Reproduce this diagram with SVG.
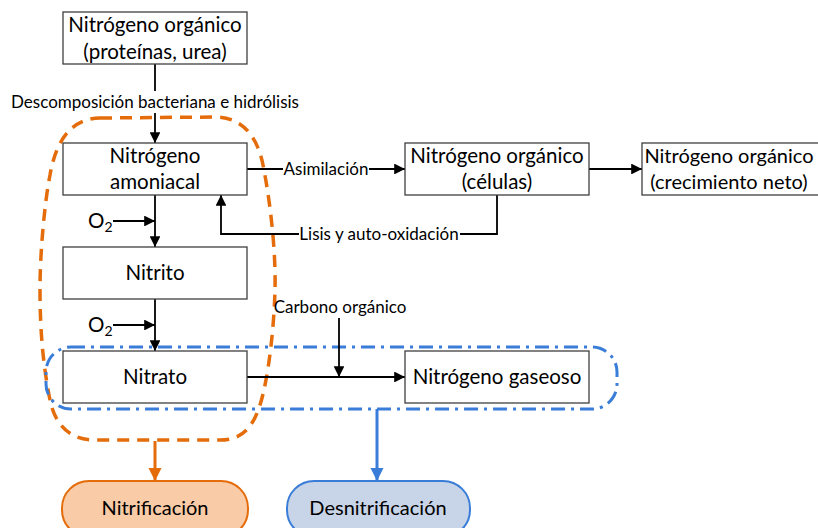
<svg xmlns="http://www.w3.org/2000/svg" width="818" height="528" viewBox="0 0 818 528">
  <style>
    .box { fill: #ffffff; stroke: #3f3f3f; stroke-width: 1.3; }
    .t { font-family: Lato, "Liberation Sans", sans-serif; fill: #000; text-anchor: middle; }
    .big { font-size: 20.5px; }
    .lbl { font-size: 17px; }
    .pill { font-size: 20px; }
    .ln { stroke: #000; stroke-width: 1.8; fill: none; }
  </style>
  <defs>
    <marker id="ah" viewBox="0 0 10 10" refX="10" refY="5" markerWidth="6" markerHeight="6" orient="auto" markerUnits="strokeWidth">
      <path d="M0,0 L10,5 L0,10 Z" fill="#000"/>
    </marker>
    <marker id="ahO" viewBox="0 0 10 10" refX="10" refY="5" markerWidth="4.5" markerHeight="4.5" orient="auto" markerUnits="strokeWidth">
      <path d="M0,0 L10,5 L0,10 Z" fill="#E46C0A"/>
    </marker>
    <marker id="ahB" viewBox="0 0 10 10" refX="10" refY="5" markerWidth="4.5" markerHeight="4.5" orient="auto" markerUnits="strokeWidth">
      <path d="M0,0 L10,5 L0,10 Z" fill="#3A7DD8"/>
    </marker>
  </defs>

  <rect width="818" height="528" fill="#ffffff"/>

  <!-- process groupings -->
  <g id="grupo-nitrificacion">
    <path d="M100 118 L215 117 C245 117 258 140 263 165 C270 200 276 250 275 290 C274 330 268 380 260 405 C252 430 240 440 220 440 L95 440 C70 440 55 425 50 400 C43 365 40 330 40 290 C40 250 45 200 50 175 C56 140 72 118 100 118 Z"
          fill="none" stroke="#E46C0A" stroke-width="3.5" stroke-dasharray="12 8"/>
  </g>
  <g id="grupo-desnitrificacion">
    <rect x="46" y="347" width="571" height="62" rx="25" fill="none" stroke="#3A7DD8" stroke-width="3" stroke-dasharray="14 6 3 6"/>
  </g>

  <!-- connectors -->
  <g id="conectores">
    <line class="ln" x1="155" y1="64" x2="155" y2="91"/>
    <line class="ln" x1="155" y1="113" x2="155" y2="143" marker-end="url(#ah)"/>
    <line class="ln" x1="247" y1="169" x2="283" y2="169"/>
    <line class="ln" x1="369" y1="169" x2="405" y2="169" marker-end="url(#ah)"/>
    <line class="ln" x1="589" y1="169" x2="642" y2="169" marker-end="url(#ah)"/>
    <polyline class="ln" points="497,195 497,234 460,234"/>
    <polyline class="ln" points="299,234 221,234 221,195" marker-end="url(#ah)"/>
    <line class="ln" x1="155" y1="195" x2="155" y2="247" marker-end="url(#ah)"/>
    <line class="ln" x1="113" y1="221" x2="155" y2="221" marker-end="url(#ah)"/>
    <line class="ln" x1="155" y1="299" x2="155" y2="351" marker-end="url(#ah)"/>
    <line class="ln" x1="113" y1="325" x2="155" y2="325" marker-end="url(#ah)"/>
    <line class="ln" x1="247" y1="377" x2="405" y2="377" marker-end="url(#ah)"/>
    <line class="ln" x1="339" y1="318" x2="339" y2="377" marker-end="url(#ah)"/>
    <line x1="155" y1="441" x2="155" y2="481" stroke="#E46C0A" stroke-width="3" marker-end="url(#ahO)"/>
    <line x1="377" y1="409" x2="377" y2="481" stroke="#3A7DD8" stroke-width="3" marker-end="url(#ahB)"/>
    <text class="t lbl" x="155" y="108">Descomposición bacteriana e hidrólisis</text>
    <text class="t lbl" x="326" y="175">Asimilación</text>
    <text class="t lbl" x="379" y="240">Lisis y auto-oxidación</text>
    <text class="t lbl" x="340" y="313">Carbono orgánico</text>
    <text class="t big" x="88" y="228" style="text-anchor:start">O<tspan font-size="14" dy="4">2</tspan></text>
    <text class="t big" x="88" y="332" style="text-anchor:start">O<tspan font-size="14" dy="4">2</tspan></text>
  </g>

  <!-- nodes -->
  <g id="n-organico">
    <rect class="box" x="63" y="12" width="184" height="52"/>
    <text class="t big" x="155" y="32">Nitrógeno orgánico</text>
    <text class="t big" x="155" y="59">(proteínas, urea)</text>
  </g>
  <g id="n-amoniacal">
    <rect class="box" x="63" y="143" width="184" height="52"/>
    <text class="t big" x="155" y="163">Nitrógeno</text>
    <text class="t big" x="155" y="189">amoniacal</text>
  </g>
  <g id="n-celulas">
    <rect class="box" x="405" y="143" width="184" height="52"/>
    <text class="t big" x="497" y="163">Nitrógeno orgánico</text>
    <text class="t big" x="497" y="189">(células)</text>
  </g>
  <g id="n-crecimiento">
    <rect class="box" x="642" y="143" width="184" height="52"/>
    <text class="t" x="729" y="163" font-size="20">Nitrógeno orgánico</text>
    <text class="t" x="729" y="189" font-size="20">(crecimiento neto)</text>
  </g>
  <g id="n-nitrito">
    <rect class="box" x="63" y="247" width="184" height="52"/>
    <text class="t big" x="155" y="280">Nitrito</text>
  </g>
  <g id="n-nitrato">
    <rect class="box" x="63" y="351" width="184" height="52"/>
    <text class="t big" x="155" y="384">Nitrato</text>
  </g>
  <g id="n-gaseoso">
    <rect class="box" x="405" y="351" width="184" height="52"/>
    <text class="t big" x="497" y="384">Nitrógeno gaseoso</text>
  </g>
  <g id="n-nitrificacion">
    <rect x="62" y="481" width="186" height="56" rx="27" fill="#F9CBA6" stroke="#E46C0A" stroke-width="2"/>
    <text class="t pill" x="155" y="515">Nitrificación</text>
  </g>
  <g id="n-desnitrificacion">
    <rect x="287" y="481" width="183" height="56" rx="27" fill="#C8D5E8" stroke="#3A7DD8" stroke-width="2"/>
    <text class="t pill" x="378" y="515">Desnitrificación</text>
  </g>
</svg>
